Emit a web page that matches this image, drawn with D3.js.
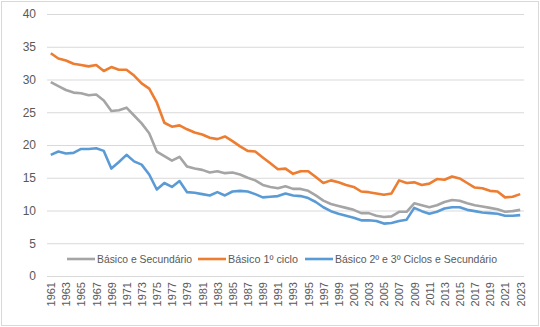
<!DOCTYPE html>
<html>
<head>
<meta charset="utf-8">
<script src="https://cdn.jsdelivr.net/npm/d3@7"></script>
<style>
  body { margin: 0; background: #fff; }
  text { font-family: "Liberation Sans", Arial, sans-serif; fill: #595959; }
</style>
</head>
<body>
<div id="chart"></div>
<script>
const years = d3.range(1961, 2024);

const basicoSecundario = [29.6, 29.0, 28.4, 28.0, 27.9, 27.6, 27.7, 26.8, 25.2, 25.3,
  25.7, 24.5, 23.3, 21.8, 19.0, 18.3, 17.6, 18.2, 16.7, 16.4,
  16.2, 15.8, 16.0, 15.7, 15.8, 15.5, 15.0, 14.6, 13.9, 13.6,
  13.4, 13.7, 13.3, 13.3, 13.0, 12.3, 11.5, 11.0, 10.7, 10.4,
  10.1, 9.6, 9.6, 9.2, 9.0, 9.1, 9.8, 9.8, 11.1, 10.8,
  10.5, 10.8, 11.3, 11.6, 11.5, 11.1, 10.8, 10.6, 10.4, 10.2,
  9.8, 9.9, 10.1];

const basico1Ciclo = [34.0, 33.2, 32.9, 32.4, 32.2, 32.0, 32.2, 31.3, 31.9, 31.5,
  31.5, 30.6, 29.4, 28.6, 26.5, 23.4, 22.8, 23.0, 22.4, 21.9,
  21.6, 21.1, 20.9, 21.3, 20.6, 19.8, 19.1, 19.0, 18.1, 17.2,
  16.3, 16.4, 15.6, 16.0, 16.0, 15.1, 14.2, 14.6, 14.3, 13.9,
  13.6, 12.9, 12.8, 12.6, 12.4, 12.6, 14.6, 14.2, 14.3, 13.9,
  14.1, 14.8, 14.7, 15.2, 14.9, 14.2, 13.5, 13.4, 13.0, 12.9,
  12.0, 12.1, 12.5];

const basico23Ciclos = [18.5, 19.0, 18.7, 18.8, 19.4, 19.4, 19.5, 19.1, 16.4, 17.4,
  18.5, 17.5, 17.0, 15.5, 13.2, 14.2, 13.6, 14.5, 12.8, 12.7,
  12.5, 12.3, 12.8, 12.3, 12.9, 13.0, 12.9, 12.5, 12.0, 12.1,
  12.2, 12.6, 12.3, 12.2, 11.9, 11.3, 10.5, 9.9, 9.5, 9.2,
  8.9, 8.5, 8.5, 8.4, 8.0, 8.1, 8.4, 8.6, 10.4, 9.9,
  9.5, 9.8, 10.3, 10.5, 10.5, 10.1, 9.9, 9.7, 9.6, 9.5,
  9.2, 9.2, 9.3];

const yTicks = [0, 5, 10, 15, 20, 25, 30, 35, 40];

const series = [
  { name: "Básico e Secundário", values: basicoSecundario, color: "#A5A5A5" },
  { name: "Básico 1º ciclo", values: basico1Ciclo, color: "#ED7D31" },
  { name: "Básico 2º e 3º Ciclos e Secundário", values: basico23Ciclos, color: "#5B9BD5" }
];

const width = 540, height = 327;
const plotLeft = 47, plotRight = 524, plotTop = 14, plotBottom = 276;

const svg = d3.select("#chart").append("svg")
  .attr("width", width)
  .attr("height", height);

svg.append("rect")
  .attr("x", 1.5).attr("y", 1.5)
  .attr("width", width - 3).attr("height", height - 3)
  .attr("fill", "#fff")
  .attr("stroke", "#D9D9D9");

const x = d3.scalePoint().domain(years).range([plotLeft, plotRight]).padding(0.5);
const y = d3.scaleLinear().domain([0, 40]).range([plotBottom, plotTop]);

// grid
svg.append("g")
  .selectAll("line")
  .data(yTicks)
  .enter().append("line")
  .attr("x1", plotLeft).attr("x2", plotRight)
  .attr("y1", d => y(d) + 0.5).attr("y2", d => y(d) + 0.5)
  .attr("stroke", "#D9D9D9")
  .attr("stroke-width", 1);

// y axis labels
const yAxis = svg.append("g")
  .attr("transform", `translate(${plotLeft - 11},0)`)
  .call(d3.axisLeft(y).tickValues(yTicks).tickSize(0).tickPadding(0));
yAxis.select(".domain").remove();
yAxis.selectAll("text").style("font-size", "12px").attr("fill", "#595959");

// x axis labels (every other year)
const xAxis = svg.append("g")
  .attr("transform", `translate(0,${plotBottom})`)
  .call(d3.axisBottom(x).tickValues(years.filter(d => (d - 1961) % 2 === 0)).tickSize(0));
xAxis.select(".domain").remove();
xAxis.selectAll("text")
  .style("font-size", "11px")
  .attr("fill", "#595959")
  .attr("text-anchor", "end")
  .attr("transform", "rotate(-90)")
  .attr("x", -6)
  .attr("y", 0)
  .attr("dy", "0.35em");

// lines
const line = d3.line()
  .x((d, i) => x(years[i]))
  .y(d => y(d));

svg.append("g")
  .selectAll("path")
  .data(series)
  .enter().append("path")
  .attr("d", d => line(d.values))
  .attr("fill", "none")
  .attr("stroke", d => d.color)
  .attr("stroke-width", 2.6)
  .attr("stroke-linejoin", "round");

// legend
const legendPos = [67, 198, 305];
const legendTextLen = [95, 70, 162];
const lg = svg.append("g")
  .selectAll("g")
  .data(series)
  .enter().append("g")
  .attr("transform", (d, i) => `translate(${legendPos[i]},259)`);
lg.append("line")
  .attr("x1", 0).attr("x2", 28)
  .attr("stroke", d => d.color)
  .attr("stroke-width", 2.6);
lg.append("text")
  .attr("x", 30)
  .attr("dy", "0.35em")
  .style("font-size", "11.5px")
  .attr("textLength", (d, i) => legendTextLen[i])
  .attr("lengthAdjust", "spacingAndGlyphs")
  .text(d => d.name);
</script>
</body>
</html>
